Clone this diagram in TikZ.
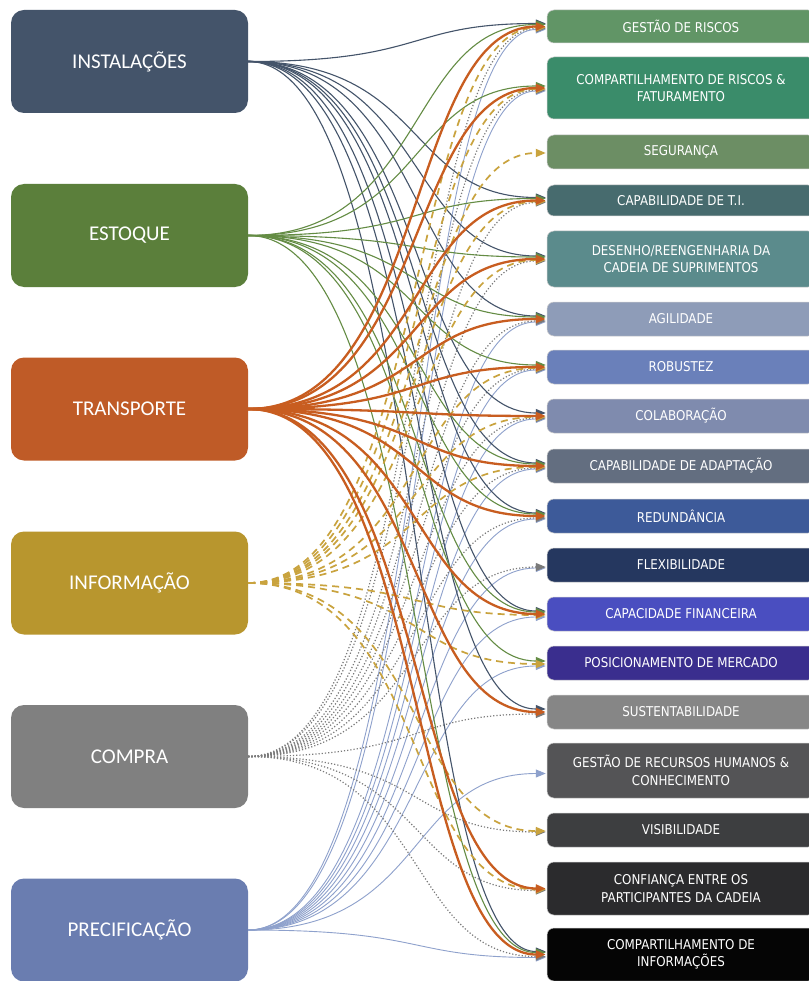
\documentclass[tikz,border=0pt]{standalone}
\usepackage{fontspec}
\usetikzlibrary{arrows.meta}
\newfontfamily\lfnt{Carlito}
\newfontfamily\rfnt{DejaVu Sans}[FakeStretch=0.88]
\definecolor{cI}{HTML}{44546A}
\definecolor{cE}{HTML}{5B7F3B}
\definecolor{cT}{HTML}{BF5B27}
\definecolor{cF}{HTML}{B8962E}
\definecolor{cC}{HTML}{808080}
\definecolor{cP}{HTML}{6A7DB0}
\definecolor{lI}{HTML}{44546A}
\definecolor{lE}{HTML}{648C44}
\definecolor{lT}{HTML}{C85D20}
\definecolor{lF}{HTML}{C9A33E}
\definecolor{lC}{HTML}{7A7A7A}
\definecolor{lP}{HTML}{8EA1CC}
\definecolor{r1}{HTML}{619566}
\definecolor{r2}{HTML}{3A8C6A}
\definecolor{r3}{HTML}{6C8E64}
\definecolor{r4}{HTML}{476B6E}
\definecolor{r5}{HTML}{5B8B8C}
\definecolor{r6}{HTML}{8E9CB8}
\definecolor{r7}{HTML}{6A80BA}
\definecolor{r8}{HTML}{7F8BAE}
\definecolor{r9}{HTML}{636E80}
\definecolor{r10}{HTML}{3D5A99}
\definecolor{r11}{HTML}{25375F}
\definecolor{r12}{HTML}{4A4EC0}
\definecolor{r13}{HTML}{3A2E8E}
\definecolor{r14}{HTML}{868686}
\definecolor{r15}{HTML}{545456}
\definecolor{r16}{HTML}{3D3E40}
\definecolor{r17}{HTML}{2B2B2D}
\definecolor{r18}{HTML}{050505}
\begin{document}
\begin{tikzpicture}[x=1pt,y=-1pt,
  lbox/.style={rounded corners=13pt, minimum width=237pt, minimum height=103pt, text=white, font=\lfnt\fontsize{21}{24}\selectfont, inner sep=0pt},
  rbox/.style={rounded corners=7pt, minimum width=268pt, text=white, font=\rfnt\fontsize{13.5}{17.5}\selectfont, align=center, inner sep=0pt, draw=black!20, line width=0.5pt},
  tip/.style={-{Triangle[length=10pt,width=8pt]}},
  iline/.style={tip, draw=lI, line width=1.1pt},
  eline/.style={tip, draw=lE, line width=1.1pt},
  tline/.style={tip, draw=lT, line width=2.3pt},
  fline/.style={tip, draw=lF, line width=1.7pt, dash pattern=on 7pt off 5pt},
  cline/.style={tip, draw=lC, line width=1.2pt, dash pattern=on 1.2pt off 2pt},
  pline/.style={tip, draw=lP, line width=0.9pt}
]
\useasboundingbox (0,0) rectangle (808,981);
\fill[white] (0,0) rectangle (808,981);
% left boxes
\node[lbox, fill=cI] (I) at (129.5,61.5) {INSTALAÇÕES};
\node[lbox, fill=cE] (E) at (129.5,235.5) {ESTOQUE};
\node[lbox, fill=cT] (T) at (129.5,409) {TRANSPORTE};
\node[lbox, fill=cF] (F) at (129.5,583) {INFORMAÇÃO};
\node[lbox, fill=cC] (C) at (129.5,756.5) {COMPRA};
\node[lbox, fill=cP] (P) at (129.5,930) {PRECIFICAÇÃO};
% right boxes
\node[rbox, fill=r1, minimum height=33pt] (t1) at (681,26.5) {GESTÃO DE RISCOS};
\node[rbox, fill=r2, minimum height=62pt] (t2) at (681,88) {COMPARTILHAMENTO DE RISCOS \&\\FATURAMENTO};
\node[rbox, fill=r3, minimum height=34pt] (t3) at (681,152) {SEGURANÇA};
\node[rbox, fill=r4, minimum height=31pt] (t4) at (681,200.5) {CAPABILIDADE DE T.I.};
\node[rbox, fill=r5, minimum height=56pt] (t5) at (681,259) {DESENHO/REENGENHARIA DA\\CADEIA DE SUPRIMENTOS};
\node[rbox, fill=r6, minimum height=34pt] (t6) at (681,319) {AGILIDADE};
\node[rbox, fill=r7, minimum height=34pt] (t7) at (681,367) {ROBUSTEZ};
\node[rbox, fill=r8, minimum height=34pt] (t8) at (681,416) {COLABORAÇÃO};
\node[rbox, fill=r9, minimum height=34pt] (t9) at (681,466) {CAPABILIDADE DE ADAPTAÇÃO};
\node[rbox, fill=r10, minimum height=34pt] (t10) at (681,516) {REDUNDÂNCIA};
\node[rbox, fill=r11, minimum height=34pt] (t11) at (681,565) {FLEXIBILIDADE};
\node[rbox, fill=r12, minimum height=34pt] (t12) at (681,614) {CAPACIDADE FINANCEIRA};
\node[rbox, fill=r13, minimum height=34pt] (t13) at (681,663) {POSICIONAMENTO DE MERCADO};
\node[rbox, fill=r14, minimum height=34pt] (t14) at (681,712) {SUSTENTABILIDADE};
\node[rbox, fill=r15, minimum height=55pt] (t15) at (681,770.5) {GESTÃO DE RECURSOS HUMANOS \&\\CONHECIMENTO};
\node[rbox, fill=r16, minimum height=34pt] (t16) at (681,830) {VISIBILIDADE};
\node[rbox, fill=r17, minimum height=53pt] (t17) at (681,888.5) {CONFIANÇA ENTRE OS\\PARTICIPANTES DA CADEIA};
\node[rbox, fill=r18, minimum height=53pt] (t18) at (681,954.5) {COMPARTILHAMENTO DE\\INFORMAÇÕES};
% connectors
\foreach \t in {1,2,6,7,8,9,10,11,12,13,15,18}
  \draw[pline] (P.east) .. controls +(180,0) and +(-140,0) .. ([xshift=-1pt,yshift=-3pt]t\t.west);
\foreach \t in {1,2,4,5,6,7,8,9,10,11,14,16,17,18}
  \draw[cline] (C.east) .. controls +(180,0) and +(-140,0) .. ([xshift=-1pt,yshift=-2pt]t\t.west);
\foreach \t in {1,4,5,6,8,9,10,12,14,18}
  \draw[iline] (I.east) .. controls +(180,0) and +(-140,0) .. ([xshift=-1pt,yshift=3pt]t\t.west);
\foreach \t in {1,2,4,5,6,7,9,10,12,13,18}
  \draw[eline] (E.east) .. controls +(180,0) and +(-140,0) .. ([xshift=-1pt,yshift=2pt]t\t.west);
\foreach \t in {1,2,3,4,5,7,8,9,12,13,16,17}
  \draw[fline] (F.east) .. controls +(180,0) and +(-140,0) .. ([xshift=-1pt,yshift=-1pt]t\t.west);
\foreach \t in {1,2,4,5,6,7,8,9,10,12,14,17,18}
  \draw[tline] (T.east) .. controls +(180,0) and +(-140,0) .. ([xshift=-1pt,yshift=0pt]t\t.west);
\end{tikzpicture}
\end{document}
